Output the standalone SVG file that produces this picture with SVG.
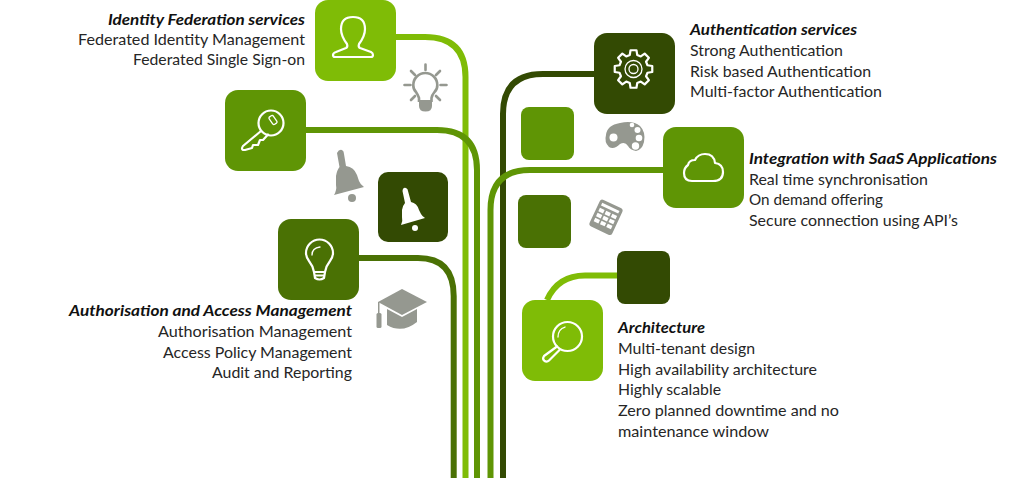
<svg xmlns="http://www.w3.org/2000/svg" width="1024" height="478" viewBox="0 0 1024 478">
<style>
text{font-family:Lato,"Open Sans","Liberation Sans",sans-serif;font-size:16px;fill:#262626}
.h{font-weight:700;font-style:italic;fill:#111}
.c{fill:none;stroke-width:6}
.w{fill:none;stroke:#fff;stroke-width:2.2;stroke-linejoin:round;stroke-linecap:round}
.t{stroke-width:1.300}
.g{fill:#959890}
.gs{fill:none;stroke:#959890;stroke-width:2.6;stroke-linecap:round}
.l{fill:#7fbc06}.m{fill:#5f9505}.d{fill:#4a7104}.k{fill:#334a03}
</style>
<g id="connectors">
<path class="c" stroke="#7fbc06" d="M395 37H425Q465.500 37 465.500 77V478"/>
<path class="c" stroke="#5f9505" d="M306 130H437Q477 130 477 170V478"/>
<path class="c" stroke="#4a7104" d="M358 258H418Q453.700 258 453.700 296V478"/>
<path class="c" stroke="#334a03" d="M594 74H543Q503 74 503 114V478"/>
<path class="c" stroke="#5f9505" d="M664 170H530Q490.500 170 490.500 210V478"/>
<path class="c" stroke="#7fbc06" d="M617 275.500H585Q558 275.500 547 300"/>
</g>
<g id="identity-federation">
<rect class="l" x="315" y="0" width="81" height="81" rx="13"/>
<path class="w" d="M333 55Q333 53 336 52L346 48Q348 47 347 44Q341 36 341 29Q341 17 353 17Q365 17 365 29Q365 36 359 44Q358 47 360 48L371 52Q373 53 373 55Q373 57 371 57H335Q333 57 333 55Z"/>
<text class="h" x="108" y="25" textLength="197" lengthAdjust="spacingAndGlyphs">Identity Federation services</text>
<text x="78" y="45" textLength="227" lengthAdjust="spacingAndGlyphs">Federated Identity Management</text>
<text x="133" y="65" textLength="172" lengthAdjust="spacingAndGlyphs">Federated Single Sign-on</text>
</g>
<g id="icon-bulb-grey">
<path d="M419 102V98Q418 95 416 92Q413 89 413.300 85A12 12 0 0 1 437.300 85Q437.600 89 434.500 92Q432 95 431.500 98V102" fill="none" stroke="#959890" stroke-width="2.6"/>
<path class="g" d="M419 100H432V106Q432 111.500 425.500 111.500Q419 111.500 419 106Z"/>
<path class="gs" d="M425.500 64.500V70M411 71L415 75M440 71L436 75M404.500 85H410.500M440.500 85H446.500M411 100L415 96M440 100L436 96"/>
</g>
<g id="key">
<rect class="m" x="225" y="90" width="81" height="81" rx="13"/>
<circle cx="271" cy="123" r="12.500" class="w"/>
<path class="w" d="M261 131L243 146Q241 149 243 150L245 150L252 148L253 145L258 145L260 140L263 140L268 134.500"/>
<rect class="w t" x="-2.500" y="-4.500" width="5" height="9" rx="1.500" transform="translate(273 120) rotate(-35)"/>
</g>
<g id="icon-bell-grey">
<path class="g" d="M337 153Q339 149 342 150Q344 151 344 154L346 166Q354 167 357 175L359 181Q360 184 364 187L334 195Q337 190 336 185L336 176Q337 170 339.500 167Z"/>
<circle class="g" cx="352" cy="198" r="4"/>
</g>
<g id="bell-tile">
<rect class="k" x="378" y="172" width="70" height="70" rx="10"/>
<path fill="#fff" d="M402.500 191Q403 187 406 188Q408 189 408 191L411 202Q417 203 419 210L421 214Q422 216 425 218L401 225Q403 221 402 217L402 210Q403 205 405 203Z"/>
<circle fill="#fff" cx="415" cy="228" r="3"/>
</g>
<g id="authorisation">
<rect class="d" x="278" y="219" width="81" height="81" rx="13"/>
<path class="w" d="M314 272Q313 266 309 261Q306 257 306 253A13.500 13.500 0 0 1 333 253Q333 257 330 261Q326 266 325 272ZM314 272L315 278Q319.500 281 324 278L325 272M315 275.500H324"/>
<path class="w t" d="M312 255Q312 248 320 247"/>
<text class="h" x="69" y="316" textLength="283" lengthAdjust="spacingAndGlyphs">Authorisation and Access Management</text>
<text x="158" y="337" textLength="194" lengthAdjust="spacingAndGlyphs">Authorisation Management</text>
<text x="163" y="358" textLength="189" lengthAdjust="spacingAndGlyphs">Access Policy Management</text>
<text x="212" y="378" textLength="140" lengthAdjust="spacingAndGlyphs">Audit and Reporting</text>
</g>
<g id="icon-cap-grey">
<path class="g" d="M402 289L427 302L402 315L378 302Z"/>
<path class="g" d="M387 309L402 317L417 309V322Q402 334 387 325Z"/>
<rect class="g" x="378" y="302" width="1.500" height="12"/>
<rect class="g" x="376.500" y="313" width="5" height="15" rx="1.500"/>
</g>
<g id="authentication">
<rect class="k" x="594" y="33" width="81" height="81" rx="13"/>
<g transform="translate(633.500 69)">
<path class="w" stroke-width="2" d="M-3.750 -14L-2.970 -18.770L2.970 -18.770L3.750 -14L7.250 -12.550L11.170 -15.370L15.370 -11.170L12.550 -7.250L14 -3.750L18.770 -2.970L18.770 2.970L14 3.750L12.550 7.250L15.370 11.170L11.170 15.370L7.250 12.550L3.750 14L2.970 18.770L-2.970 18.770L-3.750 14L-7.250 12.550L-11.170 15.370L-15.370 11.170L-12.550 7.250L-14 3.750L-18.770 2.970L-18.770 -2.970L-14 -3.750L-12.550 -7.250L-15.370 -11.170L-11.170 -15.370L-7.250 -12.550Z"/>
<circle r="8.500" class="w t"/>
<circle r="4.500" class="w t"/>
</g>
<text class="h" x="690" y="35" textLength="167" lengthAdjust="spacingAndGlyphs">Authentication services</text>
<text x="690" y="56" textLength="153" lengthAdjust="spacingAndGlyphs">Strong Authentication</text>
<text x="690" y="77" textLength="181" lengthAdjust="spacingAndGlyphs">Risk based Authentication</text>
<text x="690" y="97" textLength="192" lengthAdjust="spacingAndGlyphs">Multi-factor Authentication</text>
</g>
<rect id="tile-a" class="m" x="521" y="107" width="53" height="53" rx="8"/>
<g id="icon-palette-grey">
<path class="g" d="M606 135Q607 125 620 123Q633 120 640 126Q646 132 644 142Q642 150 636 151Q630 150 628 146Q625 141 620 144Q614 150 609 147Q604 142 606 135Z"/>
<g fill="#fff"><circle cx="613.500" cy="137.500" r="4"/><circle cx="632" cy="125" r="2.300"/><circle cx="637.500" cy="130" r="3"/><circle cx="639" cy="138" r="3.300"/><circle cx="635.500" cy="146" r="3.700"/></g>
</g>
<g id="integration">
<rect class="m" x="663" y="127" width="81" height="81" rx="13"/>
<path class="w" d="M692 181H713Q723 181 723 172Q723 164 715 163Q714 154 705 154Q698 154 695 160Q689 160 688 165Q684 168 684 173Q684 181 692 181Z"/>
<text class="h" x="749" y="164" textLength="248" lengthAdjust="spacingAndGlyphs">Integration with SaaS Applications</text>
<text x="749" y="185" textLength="179" lengthAdjust="spacingAndGlyphs">Real time synchronisation</text>
<text x="749" y="205" textLength="134" lengthAdjust="spacingAndGlyphs">On demand offering</text>
<text x="749" y="226" textLength="209" lengthAdjust="spacingAndGlyphs">Secure connection using API’s</text>
</g>
<rect id="tile-b" class="d" x="518" y="195" width="53" height="53" rx="8"/>
<g id="icon-calculator-grey" transform="translate(606 217.300) rotate(25)">
<rect class="g" x="-12.500" y="-14.700" width="25" height="29.400" rx="3"/>
<g fill="#fff">
<rect x="-9.500" y="-11.500" width="19" height="3"/>
<rect x="-9.500" y="-6" width="5.200" height="3.800"/><rect x="-2.600" y="-6" width="5.200" height="3.800"/><rect x="4.300" y="-6" width="5.200" height="3.800"/>
<rect x="-9.500" y="-0.500" width="5.200" height="3.800"/><rect x="-2.600" y="-0.500" width="5.200" height="3.800"/><rect x="4.300" y="-0.500" width="5.200" height="3.800"/>
<rect x="-9.500" y="5" width="5.200" height="3.800"/><rect x="-2.600" y="5" width="5.200" height="3.800"/><rect x="4.300" y="5" width="5.200" height="3.800"/>
</g>
</g>
<rect id="tile-c" class="k" x="617" y="251" width="53" height="53" rx="8"/>
<g id="architecture">
<rect class="l" x="522" y="300" width="81" height="81" rx="13"/>
<circle cx="567.500" cy="336.500" r="14.500" class="w"/>
<path class="w" d="M557 346.500L544 356Q542 359 544.500 361Q547 362.500 549 360.500L559.500 350"/>
<path class="w t" d="M558 337Q558 329 565 327"/>
<text class="h" x="618" y="333" textLength="87" lengthAdjust="spacingAndGlyphs">Architecture</text>
<text x="618" y="354" textLength="137" lengthAdjust="spacingAndGlyphs">Multi-tenant design</text>
<text x="618" y="375" textLength="199" lengthAdjust="spacingAndGlyphs">High availability architecture</text>
<text x="618" y="395" textLength="103" lengthAdjust="spacingAndGlyphs">Highly scalable</text>
<text x="618" y="416" textLength="221" lengthAdjust="spacingAndGlyphs">Zero planned downtime and no</text>
<text x="618" y="437" textLength="151" lengthAdjust="spacingAndGlyphs">maintenance window</text>
</g>
</svg>
